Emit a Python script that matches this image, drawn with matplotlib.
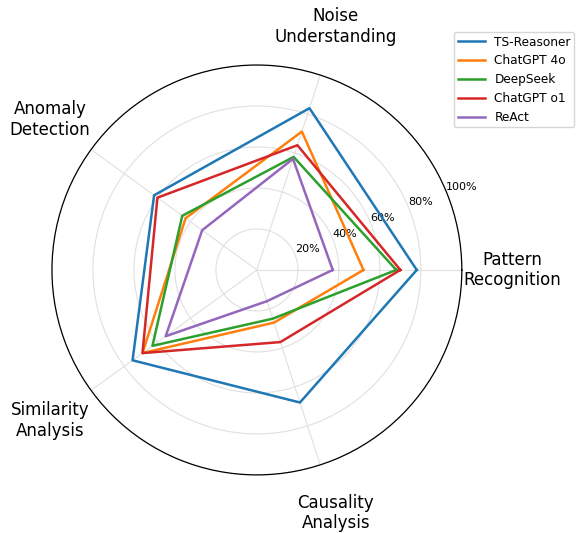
import numpy as np
import matplotlib
matplotlib.use("Agg")
import matplotlib.pyplot as plt

categories = ["Pattern\nRecognition", "Noise\nUnderstanding", "Anomaly\nDetection",
              "Similarity\nAnalysis", "Causality\nAnalysis"]
models = ["TS-Reasoner", "ChatGPT 4o", "DeepSeek", "ChatGPT o1", "ReAct"]
ts_reasoner = [78, 83, 62, 75, 68]
chatgpt_4o = [52, 71, 43, 69, 27]
deepseek = [68, 58, 45, 63, 25]
chatgpt_o1 = [70, 64, 60, 69, 37]
react = [37, 57, 33, 55, 16]
series = [ts_reasoner, chatgpt_4o, deepseek, chatgpt_o1, react]
colors = ["#1f77b4", "#ff7f0e", "#2ca02c", "#d62728", "#9467bd"]
rticks = [20, 40, 60, 80, 100]
rticklabels = ["20%", "40%", "60%", "80%", "100%"]

n = len(categories)
angles = np.linspace(0, 2 * np.pi, n, endpoint=False)
angles_closed = np.concatenate([angles, angles[:1]])

fig = plt.figure(figsize=(5.76, 5.33), dpi=100)
ax = fig.add_axes([0.090, 0.109, 0.712, 0.769], projection="polar")

for name, vals, c in zip(models, series, colors):
    v = list(vals) + [vals[0]]
    ax.plot(angles_closed, v, color=c, linewidth=1.8, label=name)

ax.set_ylim(0, 100)
ax.set_yticks(rticks)
ax.set_yticklabels(rticklabels, fontsize=8)
ax.set_xticks(angles)
ax.set_xticklabels(categories, fontsize=12)
ax.tick_params(axis="x", pad=26)
ax.grid(True, color="#e0e0e0", linewidth=0.8)
ax.spines["polar"].set_linewidth(0.9)

ax.legend(loc="upper left", bbox_to_anchor=(0.788, 0.94), bbox_transform=fig.transFigure,
          fontsize=8.7, frameon=True, labelspacing=0.48, borderaxespad=0,
          borderpad=0.3, handlelength=2.3, handletextpad=0.75)

fig.savefig("out.png", dpi=100)
